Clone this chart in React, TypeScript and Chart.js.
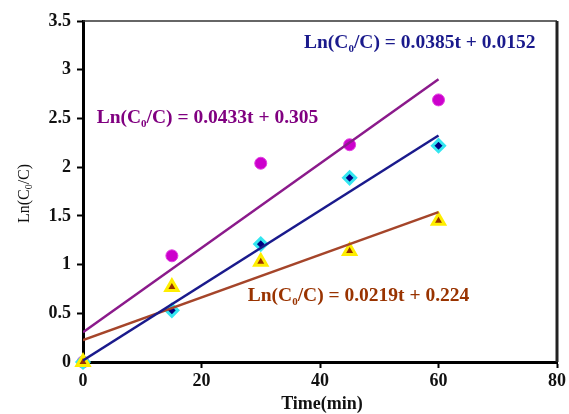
import React, { useEffect, useRef } from "react";
import { Chart, registerables } from "chart.js";

Chart.register(...registerables);

const times = [0, 15, 30, 45, 60];
const seriesA = [0, 1.09, 2.04, 2.23, 2.69]; // magenta circles
const seriesB = [0, 0.53, 1.21, 1.89, 2.22]; // cyan diamonds
const seriesC = [0, 0.77, 1.03, 1.14, 1.45]; // yellow triangles

const slopes = [0.0433, 0.0385, 0.0219];
const intercepts = [0.305, 0.0152, 0.224];
const fitRange = [0, 60];

const xTicks = [0, 20, 40, 60, 80];
const yTicks = [0, 0.5, 1, 1.5, 2, 2.5, 3, 3.5];

const SERIF = "'Liberation Serif', 'Times New Roman', serif";

const labels = [
  { slope: "0.0433", inter: "0.305", color: "#800080", at: [2.3, 2.5] },
  { slope: "0.0385", inter: "0.0152", color: "#1a1a8c", at: [37.3, 3.27] },
  { slope: "0.0219", inter: "0.224", color: "#993300", at: [27.8, 0.68] },
];

function drawEq(ctx: CanvasRenderingContext2D, x: number, y: number, slope: string, inter: string, color: string) {
  ctx.save();
  ctx.fillStyle = color;
  ctx.textBaseline = "alphabetic";
  ctx.textAlign = "left";
  const big = "bold 19.5px " + SERIF;
  const small = "bold 11px " + SERIF;
  let cx = x;
  ctx.font = big;
  ctx.fillText("Ln(C", cx, y);
  cx += ctx.measureText("Ln(C").width;
  ctx.font = small;
  ctx.fillText("0", cx, y + 4);
  cx += ctx.measureText("0").width;
  ctx.font = big;
  const rest = "/C) = " + slope + "t + " + inter;
  ctx.fillText(rest, cx, y);
  ctx.restore();
}

const annot = {
  id: "annot",
  afterDatasetsDraw(chart: any) {
    const ctx = chart.ctx as CanvasRenderingContext2D;
    const xs = chart.scales.x;
    const ys = chart.scales.y;
    const area = chart.chartArea;
    ctx.save();
    ctx.strokeStyle = "#333";
    ctx.lineWidth = 1.5;
    ctx.beginPath();
    ctx.moveTo(area.left, area.top);
    ctx.lineTo(area.right, area.top);
    ctx.stroke();
    ctx.lineWidth = 3;
    ctx.strokeStyle = "#222";
    ctx.beginPath();
    ctx.moveTo(area.right, area.top);
    ctx.lineTo(area.right, area.bottom);
    ctx.stroke();
    ctx.restore();

    for (const l of labels) {
      drawEq(ctx, xs.getPixelForValue(l.at[0]), ys.getPixelForValue(l.at[1]) + 5, l.slope, l.inter, l.color);
    }

    ctx.save();
    ctx.fillStyle = "#111";
    ctx.font = "bold 18px " + SERIF;
    ctx.textAlign = "center";
    ctx.textBaseline = "middle";
    ctx.fillText("Time(min)", (area.left + area.right) / 2 + 2, 404);
    ctx.restore();

    ctx.save();
    ctx.translate(25, (area.top + area.bottom) / 2 + 2);
    ctx.rotate(-Math.PI / 2);
    ctx.fillStyle = "#111";
    ctx.textBaseline = "middle";
    const f1 = "16px " + SERIF;
    const f2 = "10px " + SERIF;
    ctx.font = f1;
    const w1 = ctx.measureText("Ln(C").width;
    const w3 = ctx.measureText("/C)").width;
    ctx.font = f2;
    const w2 = ctx.measureText("0").width;
    let sx = -(w1 + w2 + w3) / 2;
    ctx.font = f1;
    ctx.fillText("Ln(C", sx, 0);
    sx += w1;
    ctx.font = f2;
    ctx.fillText("0", sx, 4);
    sx += w2;
    ctx.font = f1;
    ctx.fillText("/C)", sx, 0);
    ctx.restore();
  },
};

export default function App() {
  const ref = useRef<HTMLCanvasElement | null>(null);
  useEffect(() => {
    document.body.style.margin = "0";
    const pts = (arr: number[]) => times.map((t, i) => ({ x: t, y: arr[i] }));
    const fit = (k: number) => fitRange.map((t) => ({ x: t, y: slopes[k] * t + intercepts[k] }));
    const chart = new Chart(ref.current as HTMLCanvasElement, {
      type: "scatter",
      data: {
        datasets: [
          {
            type: "line",
            data: fit(1),
            borderColor: "#1a1a8c",
            borderWidth: 2.5,
            pointRadius: 0,
            showLine: true,
          } as any,
          {
            type: "line",
            data: fit(0),
            borderColor: "#8b1a8b",
            borderWidth: 2.5,
            pointRadius: 0,
            showLine: true,
          } as any,
          {
            type: "line",
            data: fit(2),
            borderColor: "#a5452a",
            borderWidth: 2.5,
            pointRadius: 0,
            showLine: true,
          } as any,
          {
            data: pts(seriesC),
            pointStyle: "triangle",
            pointRadius: 7,
            backgroundColor: "#993300",
            borderColor: "#ffee00",
            borderWidth: 3,
            clip: false,
          },
          {
            data: pts(seriesB),
            pointStyle: "rectRot",
            pointRadius: 6,
            backgroundColor: "#000080",
            borderColor: "#33e6f0",
            borderWidth: 3,
            clip: false,
          },
          {
            data: pts(seriesA),
            pointStyle: "circle",
            pointRadius: 6,
            backgroundColor: "#cc00cc",
            borderColor: "#e040e0",
            borderWidth: 1,
            clip: false,
          },
        ],
      },
      options: {
        responsive: false,
        animation: false,
        layout: { padding: { top: 21, right: 11, left: 0, bottom: 0 } },
        plugins: { legend: { display: false }, tooltip: { enabled: false } },
        scales: {
          x: {
            type: "linear",
            min: 0,
            max: 80,
            afterFit: (s: any) => {
              s.height = 52;
            },
            afterBuildTicks: (s: any) => {
              s.ticks = xTicks.map((v) => ({ value: v }));
            },
            border: { display: true, color: "#000", width: 3 },
            grid: { drawOnChartArea: false, drawTicks: true, tickLength: 6, tickColor: "#000", tickWidth: 2 },
            ticks: {
              color: "#111",
              padding: 3,
              callback: (v: any) => String(v),
              font: { family: SERIF, size: 18, weight: "bold" },
            },
          },
          y: {
            type: "linear",
            min: 0,
            max: 3.5,
            afterFit: (s: any) => {
              s.width = 83;
            },
            afterBuildTicks: (s: any) => {
              s.ticks = yTicks.map((v) => ({ value: v }));
            },
            border: { display: true, color: "#000", width: 3 },
            grid: { drawOnChartArea: false, drawTicks: true, tickLength: 6, tickColor: "#000", tickWidth: 2 },
            ticks: {
              color: "#111",
              padding: 6,
              callback: (v: any) => String(v),
              font: { family: SERIF, size: 18, weight: "bold" },
            },
          },
        },
      } as any,
      plugins: [annot],
    });
    return () => chart.destroy();
  }, []);
  return (
    <div style={{ width: 569, height: 414 }}>
      <canvas ref={ref} width={569} height={414} />
    </div>
  );
}
